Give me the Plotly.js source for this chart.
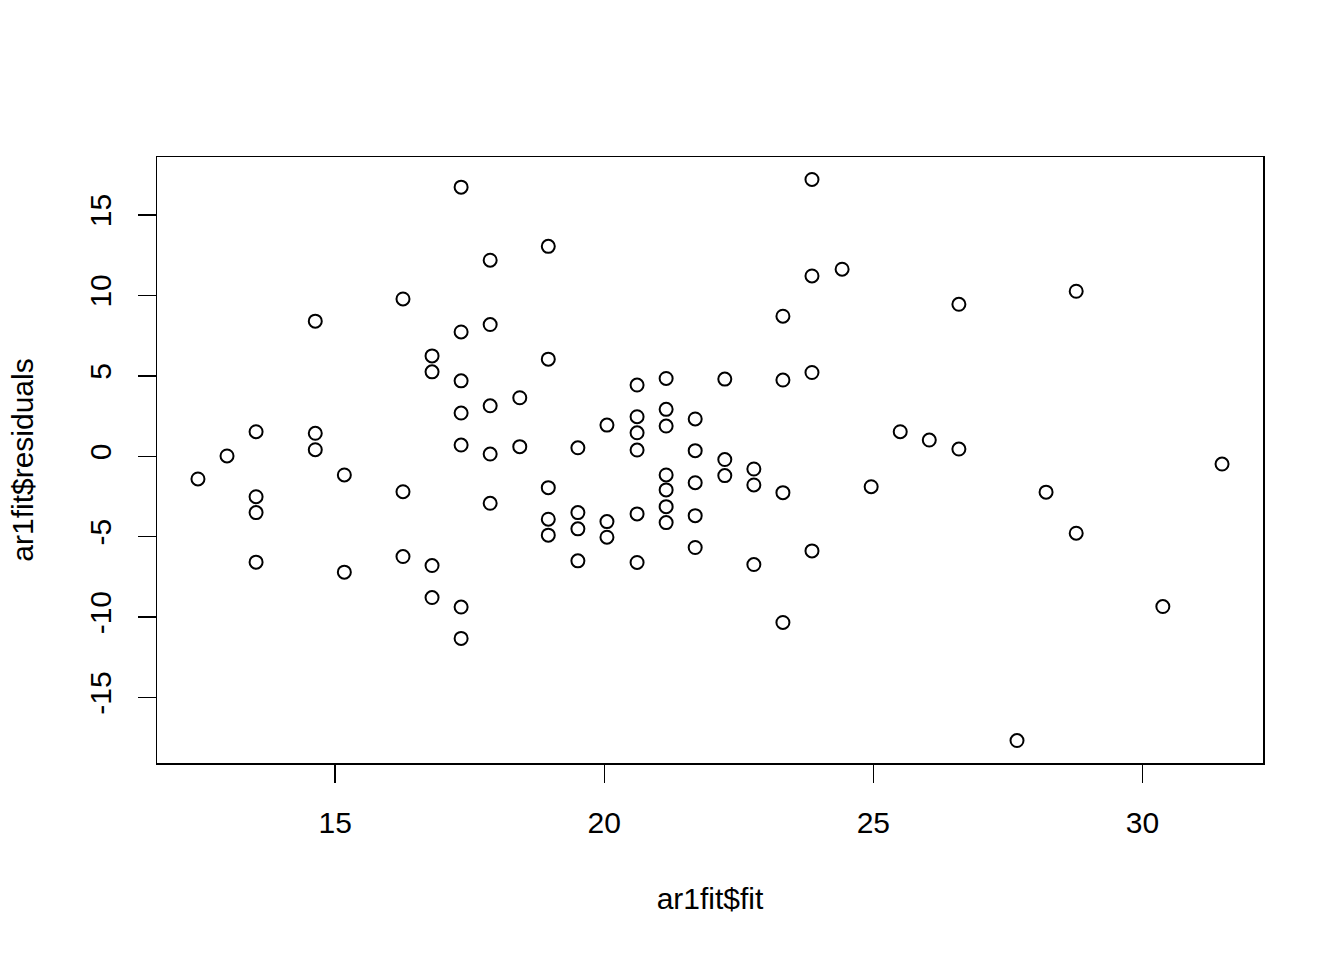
<!DOCTYPE html>
<html>
<head>
<meta charset="utf-8">
<script src="https://cdn.plot.ly/plotly-3.0.1.min.js"></script>
<style>html,body{margin:0;padding:0;background:#fff;}#plot{width:1344px;height:960px;}</style>
</head>
<body>
<div id="plot"></div>
<script>
const fitted = [
  12.45, 12.99, 13.53, 13.53, 13.53, 13.53, 14.63, 14.63, 14.63, 15.17, 15.17,
  16.26, 16.26, 16.26, 16.80, 16.80, 16.80, 16.80,
  17.34, 17.34, 17.34, 17.34, 17.34, 17.34, 17.34,
  17.88, 17.88, 17.88, 17.88, 17.88, 18.43, 18.43,
  18.96, 18.96, 18.96, 18.96, 18.96,
  19.51, 19.51, 19.51, 19.51, 20.05, 20.05, 20.05,
  20.61, 20.61, 20.61, 20.61, 20.61, 20.61,
  21.15, 21.15, 21.15, 21.15, 21.15, 21.15, 21.15,
  21.69, 21.69, 21.69, 21.69, 21.69,
  22.24, 22.24, 22.24, 22.78, 22.78, 22.78,
  23.32, 23.32, 23.32, 23.32, 23.86, 23.86, 23.86, 23.86,
  24.42, 24.96, 25.50, 26.04, 26.59, 26.59, 27.67, 28.21, 28.77, 28.77, 30.38, 31.48
];
const residuals = [
  -1.41, 0.02, 1.53, -2.51, -3.50, -6.58, 8.40, 1.43, 0.41, -1.16, -7.20,
  9.78, -2.20, -6.23, 6.24, 5.25, -6.79, -8.78,
  16.73, 7.73, 4.69, 2.69, 0.70, -9.37, -11.32,
  12.19, 8.19, 3.14, 0.14, -2.92, 3.64, 0.60,
  13.05, 6.04, -1.95, -3.91, -4.90,
  0.53, -3.50, -4.51, -6.50, 1.94, -4.06, -5.03,
  4.43, 2.46, 1.46, 0.39, -3.58, -6.60,
  4.84, 2.92, 1.88, -1.16, -2.09, -3.13, -4.12,
  2.32, 0.35, -1.64, -3.69, -5.67,
  4.80, -0.20, -1.20, -0.79, -1.78, -6.73,
  8.71, 4.74, -2.26, -10.33, 17.21, 11.21, 5.21, -5.88,
  11.63, -1.89, 1.53, 1.01, 9.45, 0.45, -17.67, -2.23, 10.26, -4.78, -9.34, -0.48
];
const xTicks = [15, 20, 25, 30];
const yTicks = [-15, -10, -5, 0, 5, 10, 15];
const xLabel = "ar1fit$fit";
const yLabel = "ar1fit$residuals";

// R-style 4% range expansion
function rRange(v) {
  const lo = Math.min(...v), hi = Math.max(...v), d = (hi - lo) * 0.04;
  return [lo - d, hi + d];
}

const FONT = "Arial, 'Liberation Sans', sans-serif";
const trace = {
  x: fitted, y: residuals, type: "scatter", mode: "markers",
  marker: {symbol: "circle-open", size: 13, color: "#000", line: {color: "#000", width: 2}},
  hoverinfo: "x+y"
};
const axisBase = {
  showgrid: false, zeroline: false, showline: true, mirror: true,
  linecolor: "#000", linewidth: 1.5,
  ticks: "outside", ticklen: 18, tickwidth: 1.5, tickcolor: "#000",
  tickfont: {family: FONT, size: 30, color: "#000"},
  tickmode: "array"
};
const layout = {
  width: 1344, height: 960,
  margin: {l: 157, r: 81, t: 157, b: 197},
  paper_bgcolor: "#fff", plot_bgcolor: "#fff",
  showlegend: false,
  xaxis: Object.assign({}, axisBase, {
    range: rRange(fitted), tickvals: xTicks, ticktext: xTicks.map(String),
    ticklabelstandoff: 14,
    title: {text: xLabel, font: {family: FONT, size: 30, color: "#000"}, standoff: 50}
  }),
  yaxis: Object.assign({}, axisBase, {
    range: rRange(residuals), tickvals: yTicks, ticktext: yTicks.map(String),
    tickangle: -90, ticklabelstandoff: 15,
    title: {text: yLabel, font: {family: FONT, size: 30, color: "#000"}, standoff: 41}
  })
};
Plotly.newPlot("plot", [trace], layout, {displayModeBar: false, staticPlot: true});
</script>
</body>
</html>
